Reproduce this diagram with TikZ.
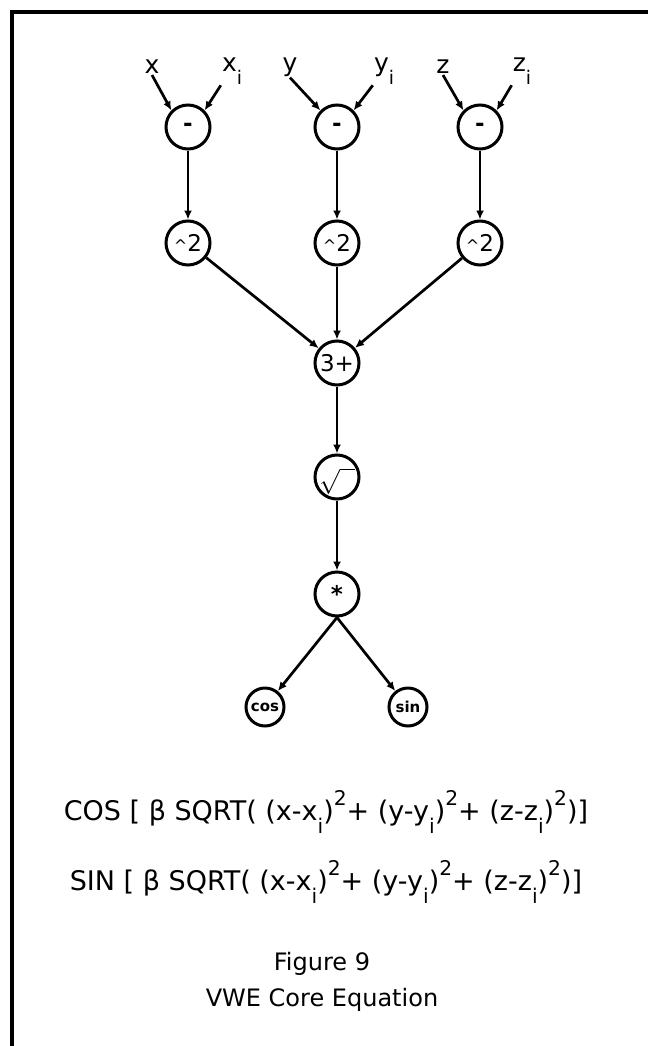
\documentclass[tikz,border=0pt]{standalone}
\usepackage{fontspec}
\setmainfont{DejaVu Sans}
\usetikzlibrary{arrows.meta}
\newcommand{\dn}[1]{\raisebox{-0.5em}{\scalebox{0.75}{#1}}}
\newcommand{\up}[1]{\raisebox{0.55em}{\scalebox{0.75}{#1}}}

\begin{document}
\begin{tikzpicture}[x=1pt,y=-1pt,
        op/.style={circle, draw, line width=3pt, minimum size=44pt, inner sep=0pt,
          font=\fontsize{23}{25}\selectfont},
        smallop/.style={op, minimum size=38pt, font=\fontsize{15}{17}\selectfont\bfseries},
        flow/.style={-{Latex[length=9pt,width=8pt]}, line width=2.7pt},
        lbl/.style={font=\fontsize{25}{27}\selectfont, inner sep=1pt},
        eqn/.style={font=\fontsize{27}{30}\selectfont, inner sep=0pt}
      ]
      \useasboundingbox (0,0) rectangle (648,1046);
      \draw[line width=3.8pt] (12,1046) -- (12,12) -- (648,12);

      \node[lbl] (x) at (152,67) {x};
      \node[lbl] (xi) at (232,71) {x\dn{i}};
      \node[lbl] (y) at (290,67) {y};
      \node[lbl] (yi) at (384,71) {y\dn{i}};
      \node[lbl] (z) at (443,67) {z};
      \node[lbl] (zi) at (522,71) {z\dn{i}};

      \node[op] (m1) at (188,127) {\textbf{-}};
      \node[op] (m2) at (337,127) {\textbf{-}};
      \node[op] (m3) at (480,127) {\textbf{-}};
      \node[op] (p1) at (188,243) {\scalebox{0.7}{\textasciicircum}2};
      \node[op] (p2) at (337,243) {\scalebox{0.7}{\textasciicircum}2};
      \node[op] (p3) at (480,243) {\scalebox{0.7}{\textasciicircum}2};
      \node[op] (sum) at (337,363) {3+};
      \node[op] (root) at (337,477) {\smash{\makebox[0pt]{\raisebox{-0.38\height}{$\sqrt{\hphantom{n}}$}}}};
      \node[op] (mul) at (337,594) {\textbf{*}};
      \node[smallop] (cos) at (265,707) {cos};
      \node[smallop] (sin) at (408,707) {sin};

      \draw[flow] (x.south) -- (m1.north west);
      \draw[flow] (xi.south west) -- (m1.north east);
      \draw[flow] (y.south) -- (m2.north west);
      \draw[flow] (yi.south west) -- (m2.north east);
      \draw[flow] (z.south) -- (m3.north west);
      \draw[flow] (zi.south west) -- (m3.north east);
      \draw[flow] (m1) -- (p1);
      \draw[flow] (m2) -- (p2);
      \draw[flow] (m3) -- (p3);
      \draw[flow] (p1) -- (sum);
      \draw[flow] (p2) -- (sum);
      \draw[flow] (p3) -- (sum);
      \draw[flow] (sum) -- (root);
      \draw[flow] (root) -- (mul);
      \draw[flow] (mul.south) -- (cos);
      \draw[flow] (mul.south) -- (sin);

      \node[eqn] (coseq) at (326,812) {COS [ β SQRT( (x-x\dn{i})\up{2}+ (y-y\dn{i})\up{2}+ (z-z\dn{i})\up{2})]};
      \node[eqn] (sineq) at (326,882) {SIN [ β SQRT( (x-x\dn{i})\up{2}+ (y-y\dn{i})\up{2}+ (z-z\dn{i})\up{2})]};
      \node[eqn, align=center, font=\fontsize{24}{36}\selectfont] (caption) at (322,982) {Figure 9\\VWE Core Equation};
    \end{tikzpicture}
\end{document}
